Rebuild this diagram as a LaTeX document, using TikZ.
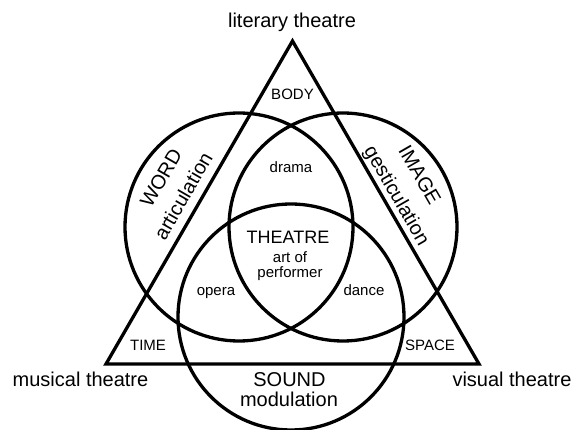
\documentclass[tikz,border=0pt]{standalone}
\usepackage{fontspec}
\setmainfont{Liberation Sans}
\begin{document}
\begin{tikzpicture}[x=1pt,y=-1pt,
  ring/.style={draw=black, line width=3.3pt},
  big/.style={font=\fontsize{20}{22}\selectfont, inner sep=0pt},
  mid/.style={font=\fontsize{18}{20}\selectfont, inner sep=0pt},
  small/.style={font=\fontsize{15}{16}\selectfont, inner sep=0pt}]
\useasboundingbox[fill=white] (0,0) rectangle (574,430);
% circle centres
\coordinate (cw) at (239,227);
\coordinate (ci) at (343,227);
\coordinate (cs) at (291,317);
% triangle corners
\coordinate (top) at (292.5,41);
\coordinate (br) at (479,364);
\coordinate (bl) at (106,364);
\draw[ring] (cw) circle (114);
\draw[ring] (ci) circle (114);
\draw[ring] (cs) circle (113);
\draw[ring, line join=miter] (top) -- (br) -- (bl) -- cycle;
% labels
\node[big, anchor=base] (lit) at (292,28) {literary theatre};
\node[small, anchor=base] (body) at (292.5,100) {BODY};
\node[small, anchor=base] (drama) at (291,173) {drama};
\node[mid, anchor=base] (theatre) at (288,244) {THEATRE};
\node[small, anchor=base] (artof) at (290,263) {art of};
\node[small, anchor=base] (perf) at (290,278) {performer};
\node[small, anchor=base] (opera) at (216,296) {opera};
\node[small, anchor=base] (dance) at (364,296) {dance};
\node[small, anchor=base] (timel) at (148,351) {TIME};
\node[small, anchor=base] (spacel) at (430,351) {SPACE};
\node[big, anchor=base] (mus) at (80.5,387) {musical theatre};
\node[big, anchor=base] (vis) at (512,387) {visual theatre};
\node[big, anchor=base] (sound) at (289.5,387) {SOUND};
\node[big, anchor=base] (modl) at (289,407) {modulation};
\node[big, rotate=60] (word) at (161,178) {WORD};
\node[big, rotate=60] (artic) at (183,196) {articulation};
\node[big, rotate=-60] (image) at (420,175) {IMAGE};
\node[big, rotate=-60] (gest) at (396,196) {gesticulation};
\end{tikzpicture}
\end{document}
